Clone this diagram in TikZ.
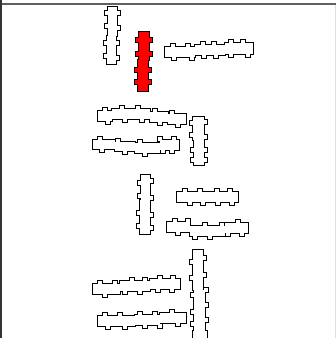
\documentclass[tikz,border=0pt]{standalone}
\begin{document}
\newcommand\Kl[2]{\R(#1-3,#2-2)(#1+1,#2+2)}
\newcommand\Kr[2]{\R(#1-1,#2-2)(#1+3,#2+2)}
\newcommand\Kt[2]{\R(#1-2,#2-3)(#1+2,#2+1)}
\newcommand\Kb[2]{\R(#1-2,#2-1)(#1+2,#2+3)}
\newcommand\drawshape[2]{%
  \begingroup
  \def\R(##1)(##2){\draw[outlinepass] (##1) rectangle (##2);}%
  #2%
  \def\R(##1)(##2){\fill[#1] (##1) rectangle (##2);}%
  #2%
  \endgroup}
\begin{tikzpicture}[x=1pt,y=-1pt,
  outlinepass/.style={draw=black,line width=1.8pt}]
\useasboundingbox (0,0) rectangle (336,338);
\fill[white] (0,0) rectangle (336,338);
% frame
\draw[gray!75!black,line width=2pt] (0,4) -- (336,4);
\draw[black!80,line width=2pt] (1,0) -- (1,338);
\draw[gray!25,line width=1pt] (335.5,5) -- (335.5,338);
% shape 1
\drawshape{white}{\R(108,7)(117,36)\R(107,36)(116,64)
 \Kl{108}{13}\Kr{117}{13}\Kl{108}{26}\Kr{117}{28}\Kl{107}{43}\Kr{116}{43}\Kl{107}{56}\Kr{116}{58}}
% shape 2 (red)
\drawshape{red}{\R(139,32)(149,60)\R(138,60)(148,91)
 \Kl{139}{40}\Kr{149}{40}\Kl{139}{54}\Kr{149}{54}\Kl{138}{70}\Kr{148}{70}\Kl{138}{82}\Kr{148}{82}}
% shape 3
\drawshape{white}{\R(165,47)(195,57)\R(195,45)(225,55)\R(225,43)(253,54)
 \Kt{173}{47}\Kt{188}{47}\Kt{203}{45}\Kt{214}{45}\Kt{231}{43}\Kt{243}{43}
 \Kb{174}{57}\Kb{192}{57}\Kb{204}{55}\Kb{216}{55}\Kb{231}{54}\Kb{248}{54}}
% shape 4
\drawshape{white}{\R(98,111)(112,121)\R(112,109)(150,119)\R(150,112)(168,122)\R(168,114)(186,124)
 \Kt{105}{111}\Kt{122}{109}\Kt{138}{109}\Kt{155}{112}\Kt{172}{114}
 \Kb{108}{121}\Kb{125}{119}\Kb{142}{119}\Kb{160}{122}\Kb{178}{124}}
% shape 5
\drawshape{white}{\R(93,140)(115,149)\R(115,142)(135,151)\R(135,143)(160,153)\R(160,140)(179,150)
 \Kt{100}{140}\Kt{118}{142}\Kt{140}{143}\Kt{160}{140}\Kt{174}{140}
 \Kb{102}{149}\Kb{125}{151}\Kb{145}{153}\Kb{163}{150}\Kb{172}{150}}
% shape 6
\drawshape{white}{\R(193,117)(204,140)\R(194,140)(204,165)
 \Kl{193}{123}\Kr{204}{122}\Kl{193}{135}\Kr{204}{137}\Kl{194}{150}\Kr{204}{150}\Kl{194}{160}\Kr{204}{160}}
% shape 7
\drawshape{white}{\R(141,175)(150,200)\R(140,200)(150,234)
 \Kl{141}{183}\Kr{150}{181}\Kl{141}{196}\Kr{150}{198}\Kl{140}{213}\Kr{150}{215}\Kl{140}{226}\Kr{150}{228}}
% shape 8
\drawshape{white}{\R(177,192)(238,202)
 \Kt{185}{192}\Kt{200}{192}\Kt{217}{192}\Kt{230}{192}
 \Kb{190}{202}\Kb{203}{202}\Kb{218}{202}\Kb{232}{202}}
% shape 9
\drawshape{white}{\R(167,222)(190,232)\R(190,226)(225,236)\R(225,223)(248,233)
 \Kt{175}{222}\Kt{188}{222}\Kt{205}{226}\Kt{222}{226}\Kt{238}{223}
 \Kb{178}{232}\Kb{195}{236}\Kb{210}{236}\Kb{228}{233}\Kb{242}{233}}
% shape 10
\drawshape{white}{\R(93,284)(120,294)\R(120,281)(150,291)\R(150,279)(180,289)
 \Kt{100}{284}\Kt{115}{284}\Kt{132}{281}\Kt{145}{281}\Kt{160}{279}\Kt{173}{279}
 \Kb{105}{294}\Kb{125}{291}\Kb{140}{291}\Kb{158}{289}\Kb{172}{289}}
% shape 11
\drawshape{white}{\R(98,316)(135,326)\R(135,315)(160,325)\R(160,313)(186,323)
 \Kt{105}{316}\Kt{120}{316}\Kt{140}{315}\Kt{155}{315}\Kt{172}{313}
 \Kb{108}{326}\Kb{125}{326}\Kb{145}{325}\Kb{160}{325}\Kb{178}{323}}
% shape 12
\drawshape{white}{\R(193,250)(203,290)\R(194,290)(205,342)\R(193,331)(207,342)
 \Kl{193}{262}\Kr{203}{258}\Kl{193}{278}\Kr{203}{275}\Kl{194}{295}\Kr{205}{290}\Kl{194}{312}\Kr{205}{305}\Kl{194}{324}\Kr{205}{320}}
\end{tikzpicture}
\end{document}
